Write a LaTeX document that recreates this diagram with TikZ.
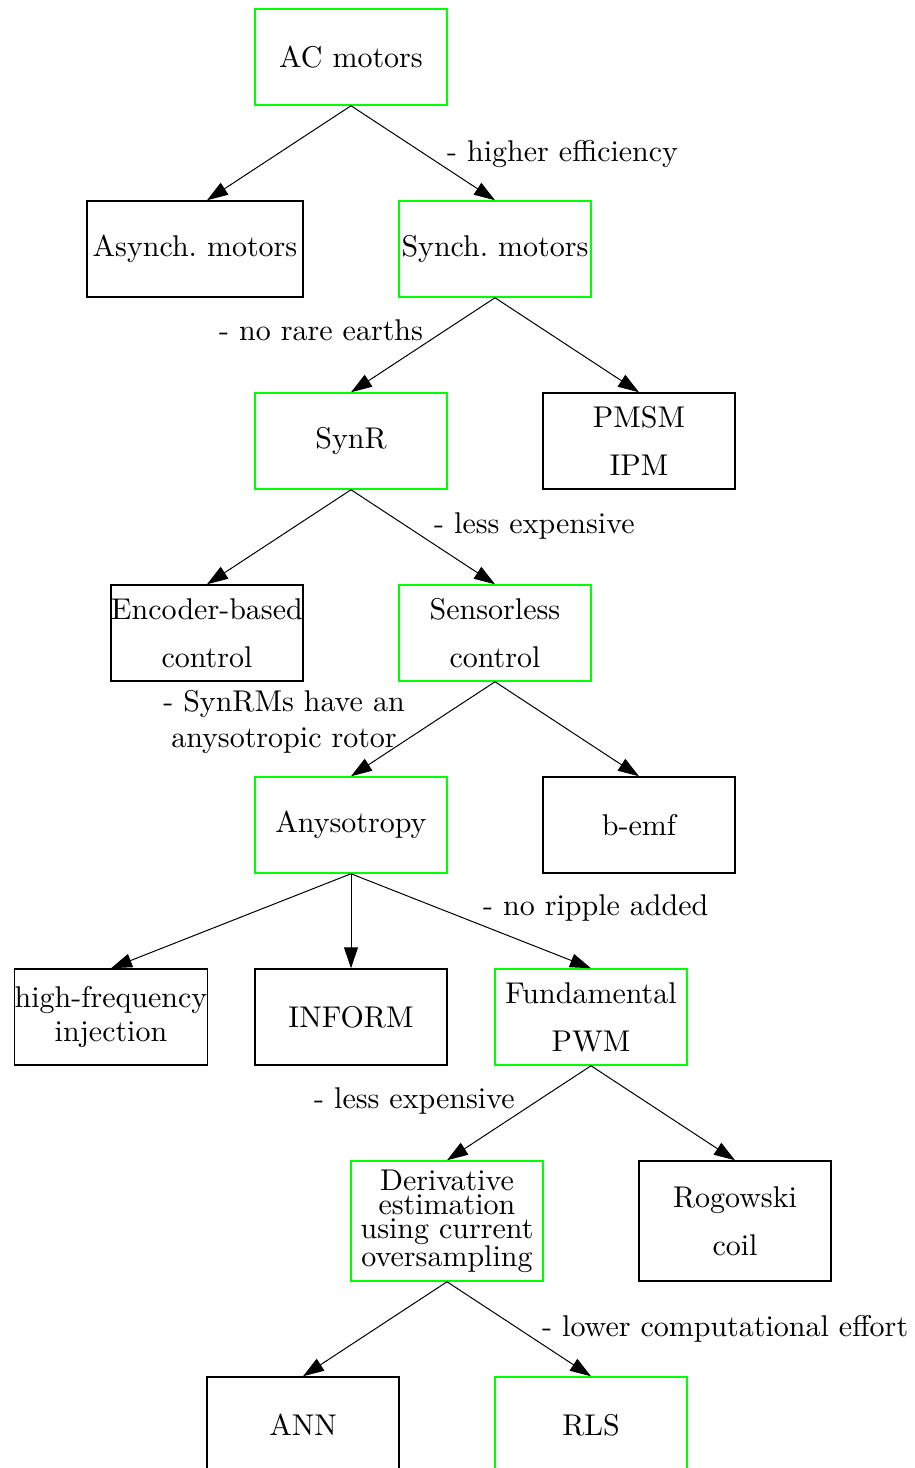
\documentclass[tikz,border=0pt]{standalone}
\usepackage{fontspec}
\setmainfont{lmroman10-regular.otf}
\usepackage{xcolor}
\usepackage{tikz}
\usetikzlibrary{arrows.meta}

\begin{document}
\begin{tikzpicture}[x=1pt,y=-1pt,
  leaf/.style={draw,rectangle,line width=1.5pt,minimum width=192pt,minimum height=96pt,
               inner sep=0pt,align=center,font=\fontsize{30}{48}\selectfont},
  pick/.style={leaf,draw=green},
  lbl/.style={inner sep=0pt,align=center,font=\fontsize{30}{36}\selectfont},
  arr/.style={-{Triangle[length=21pt,width=14pt]},line width=1pt}
]
\useasboundingbox (0,0) rectangle (915,1468);
% Motor types
\node[pick] (ac) at (351,57) {AC motors};
\node[leaf,minimum width=216pt] (asyn) at (195,249) {Asynch.\ motors};
\node[pick] (syn) at (495,249) {Synch.\ motors};
\node[pick] (synr) at (351,441) {SynR};
\node[leaf] (pmsm) at (639,441) {PMSM\\IPM};
% Control
\node[leaf] (enc) at (207,633) {Encoder-based\\control};
\node[pick] (sless) at (495,633) {Sensorless\\control};
\node[pick] (aniso) at (351,825) {Anysotropy};
\node[leaf] (bemf) at (639,825) {b-emf};
% Excitation
\node[leaf,font=\fontsize{30}{34}\selectfont] (hfi) at (111,1017) {high-frequency\\injection};
\node[leaf] (inform) at (351,1017) {INFORM};
\node[pick] (fund) at (591,1017) {Fundamental\\PWM};
% Current derivative
\node[pick,minimum height=120pt,font=\fontsize{30}{24}\selectfont] (deriv) at (447,1221)
    {Derivative\\estimation\\using current\\oversampling};
\node[leaf,minimum height=120pt] (rog) at (735,1221) {Rogowski\\coil};
\node[leaf] (ann) at (303,1425) {ANN};
\node[pick] (rls) at (591,1425) {RLS};
% Reasons
\node[lbl,anchor=base west] (w1) at (447,161) {- higher efficiency};
\node[lbl,anchor=base west] (w2) at (219,340) {- no rare earths};
\node[lbl,anchor=base west] (w3) at (434,533) {- less expensive};
\node[lbl] (w4) at (284,722) {- SynRMs have an\\anysotropic rotor};
\node[lbl,anchor=base west] (w5) at (483,915) {- no ripple added};
\node[lbl,anchor=base west] (w6) at (314,1108) {- less expensive};
\node[lbl,anchor=base west] (w7) at (542,1336) {- lower computational effort};
% Arrows
\draw[arr] (ac.south) -- ([xshift=12pt]asyn.north);
\draw[arr] (ac.south) -- (syn.north);
\draw[arr] (syn.south) -- (synr.north);
\draw[arr] (syn.south) -- (pmsm.north);
\draw[arr] (synr.south) -- (enc.north);
\draw[arr] (synr.south) -- (sless.north);
\draw[arr] (sless.south) -- (aniso.north);
\draw[arr] (sless.south) -- (bemf.north);
\draw[arr] (aniso.south) -- (hfi.north);
\draw[arr] (aniso.south) -- (inform.north);
\draw[arr] (aniso.south) -- (fund.north);
\draw[arr] (fund.south) -- (deriv.north);
\draw[arr] (fund.south) -- (rog.north);
\draw[arr] (deriv.south) -- (ann.north);
\draw[arr] (deriv.south) -- (rls.north);
\end{tikzpicture}
\end{document}
